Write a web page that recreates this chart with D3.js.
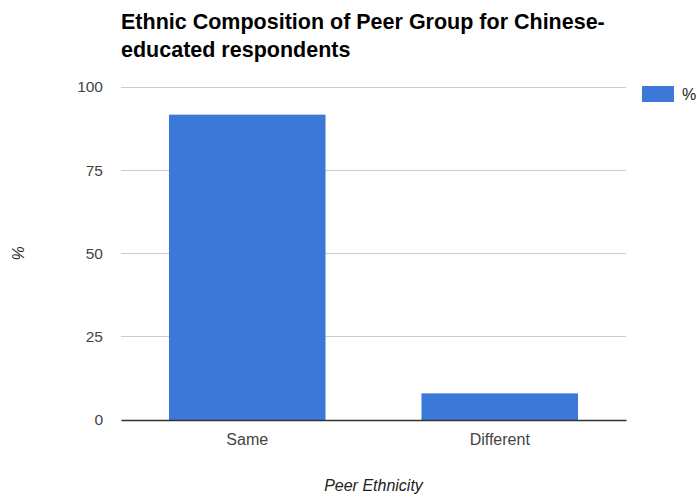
<!DOCTYPE html>
<html><head><meta charset="utf-8">
<script src="https://cdn.jsdelivr.net/npm/d3@7"></script>
<style>body{margin:0;background:#fff}svg{display:block;font-family:Arial,"Liberation Sans",sans-serif}</style>
</head><body>
<script>
const categories = ["Same", "Different"];
const values = [91.7, 8.0];
const yTicks = [0, 25, 50, 75, 100];
const titleLines = ["Ethnic Composition of Peer Group for Chinese-", "educated respondents"];
const seriesName = "%";

const W = 697, H = 499;
const m = {left: 121, right: 71, top: 87, bottom: 79};
const svg = d3.select("body").append("svg").attr("width", W).attr("height", H);

const x = d3.scaleBand().domain(categories).range([m.left, W - m.right]).paddingInner(0.38).paddingOuter(0.19);
const y = d3.scaleLinear().domain([0, 100]).range([H - m.bottom, m.top]);

// gridlines
svg.append("g").selectAll("line").data(yTicks.filter(d => d > 0)).join("line")
  .attr("x1", m.left).attr("x2", W - m.right)
  .attr("y1", d => y(d)).attr("y2", d => y(d))
  .attr("stroke", "#ccc").attr("stroke-width", 1).attr("shape-rendering", "crispEdges");

// y axis labels
const yAxis = d3.axisLeft(y).tickValues(yTicks).tickSize(0).tickPadding(18);
const gy = svg.append("g").attr("transform", `translate(${m.left},0)`).call(yAxis);
gy.select(".domain").remove();
gy.selectAll("text").attr("fill", "#444").style("font-size", "15.5px").style("font-family", "Arial, 'Liberation Sans', sans-serif");

// bars
svg.append("g").selectAll("rect").data(categories).join("rect")
  .attr("x", d => x(d)).attr("width", x.bandwidth())
  .attr("y", (d, i) => y(values[i])).attr("height", (d, i) => y(0) - y(values[i]))
  .attr("fill", "#3c78d8");

// x axis
const xAxis = d3.axisBottom(x).tickSize(0).tickPadding(14);
const gx = svg.append("g").attr("transform", `translate(0,${y(0)})`).call(xAxis);
gx.select(".domain").attr("stroke", "#333").attr("stroke-width", 1.3);
gx.selectAll("text").attr("fill", "#444").style("font-size", "16px").style("font-family", "Arial, 'Liberation Sans', sans-serif");

// title
const t = svg.append("text").attr("x", m.left).attr("y", 29)
  .attr("font-weight", "bold").attr("font-size", 21.5).attr("fill", "#000");
titleLines.forEach((l, i) => t.append("tspan").attr("x", m.left).attr("dy", i ? 27.5 : 0).text(l));

// axis titles
svg.append("text").attr("x", (m.left + W - m.right) / 2).attr("y", 491)
  .attr("text-anchor", "middle").attr("font-style", "italic").attr("font-size", 16).attr("fill", "#222")
  .text("Peer Ethnicity");
svg.append("text").attr("transform", `translate(24,${y(50)}) rotate(-90)`)
  .attr("text-anchor", "middle").attr("font-style", "italic").attr("font-size", 16).attr("fill", "#222")
  .text(seriesName);

// legend
const lg = svg.append("g").attr("transform", `translate(642,86)`);
lg.append("rect").attr("width", 32).attr("height", 16).attr("fill", "#3c78d8");
lg.append("text").attr("x", 40).attr("y", 14).attr("font-size", 16).attr("fill", "#222").text(seriesName);
</script>
</body></html>
